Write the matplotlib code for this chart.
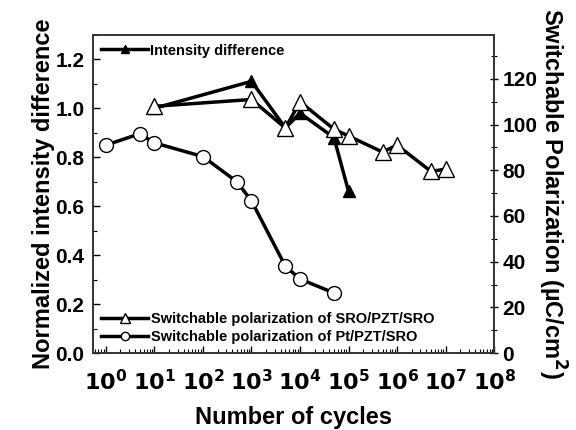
import matplotlib
matplotlib.use("Agg")
import matplotlib.pyplot as plt
from matplotlib.ticker import MultipleLocator, LogLocator, NullFormatter

plt.rcParams['font.family'] = ['Liberation Sans', 'DejaVu Sans']
plt.rcParams['font.weight'] = 'bold'

# intensity difference (left axis)
cyc_int = [1e1, 1e3, 5e3, 1e4, 5e4, 1e5]
int_diff = [1.0, 1.11, 0.92, 0.98, 0.88, 0.66]

# switchable polarization SRO/PZT/SRO (right axis)
cyc_sro = [1e1, 1e3, 5e3, 1e4, 5e4, 1e5, 5e5, 1e6, 5e6, 1e7]
pol_sro = [108, 111, 98.5, 110, 98, 95, 88, 91, 79.5, 80.5]

# switchable polarization Pt/PZT/SRO (right axis)
cyc_pt = [1, 5, 1e1, 1e2, 5e2, 1e3, 5e3, 1e4, 5e4]
pol_pt = [91, 96, 92, 86, 75, 66.6, 38, 32.4, 26.3]

xticks = [10**i for i in range(9)]
xlabels = [f"$\\mathbf{{10^{{{i}}}}}$" for i in range(9)]

fig = plt.figure(figsize=(5.76, 4.3), dpi=100)
ax = fig.add_axes([0.161, 0.179, 0.697, 0.74])
ax2 = ax.twinx()

lw = 2.5
l1, = ax.plot(cyc_int, int_diff, color='black', lw=lw, marker='^', ms=9,
              mfc='black', mec='black', label='Intensity difference', zorder=3)
l2, = ax2.plot(cyc_sro, pol_sro, color='black', lw=lw, marker='^', ms=11,
               mfc='white', mec='black', mew=1.0,
               label='Switchable polarization of SRO/PZT/SRO', zorder=4)
l3, = ax2.plot(cyc_pt, pol_pt, color='black', lw=lw, marker='o', ms=10,
               mfc='white', mec='black', mew=1.0,
               label='Switchable polarization of Pt/PZT/SRO', zorder=4)

ax.set_xscale('log')
ax.set_xlim(10**-0.27, 1e8)
ax.set_ylim(0, 1.3)
ax2.set_ylim(0, 139.3)

ax.set_xticks(xticks)
ax.set_xticklabels(xlabels)
ax.xaxis.set_minor_locator(LogLocator(base=10, subs=range(2, 10), numticks=20))
ax.xaxis.set_minor_formatter(NullFormatter())
ax.yaxis.set_major_locator(MultipleLocator(0.2))
ax.yaxis.set_minor_locator(MultipleLocator(0.1))
ax2.yaxis.set_major_locator(MultipleLocator(20))
ax2.yaxis.set_minor_locator(MultipleLocator(10))
ax.yaxis.set_major_formatter(plt.FormatStrFormatter('%.1f'))

ax.tick_params(axis='y', which='major', direction='in', length=5, width=1, labelsize=15, pad=6)
ax.tick_params(axis='x', which='major', direction='in', length=5, width=1, labelsize=16, pad=12)
ax.tick_params(axis='both', which='minor', direction='in', length=3, width=0.8)
ax.tick_params(axis='x', top=False, which='both')
ax2.tick_params(axis='y', which='major', direction='inout', length=6, width=1, labelsize=15, pad=3)
ax2.tick_params(axis='y', which='minor', direction='inout', length=4, width=0.8)

for a in (ax, ax2):
    for s in a.spines.values():
        s.set_linewidth(1.2)
        s.set_color('#333333')

ax.set_xlabel('Number of cycles', fontsize=17, fontweight='bold', labelpad=8)
ax.set_ylabel('Normalized intensity difference', fontsize=17, fontweight='bold', labelpad=0)
ax2.set_ylabel('Switchable Polarization (µC/cm$^\\mathbf{2}$)', fontsize=17,
               fontweight='bold', rotation=270, labelpad=22)

leg1 = ax2.legend(handles=[l1], loc='upper left', frameon=False, fontsize=10.5,
                  handlelength=3.2, handletextpad=0.1, borderaxespad=0.2,
                  markerscale=0.7)
ax2.add_artist(leg1)
ax2.legend(handles=[l2, l3], loc='lower left', frameon=False, fontsize=10.5,
           handlelength=3.2, handletextpad=0.2, borderaxespad=0.2, labelspacing=0.3,
           markerscale=0.6)

fig.savefig('out.png', dpi=100)
